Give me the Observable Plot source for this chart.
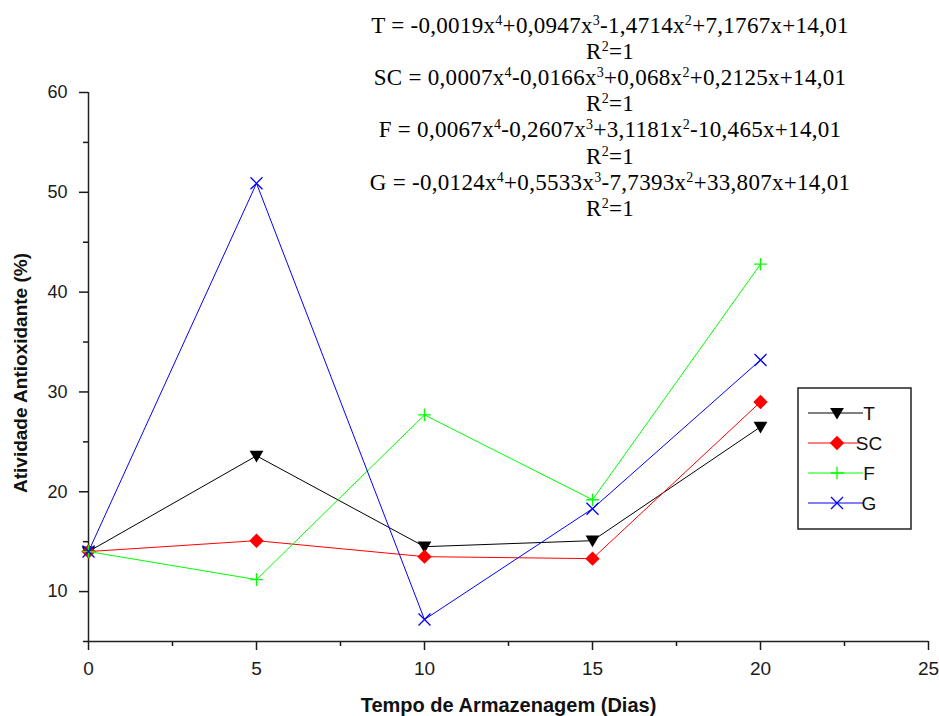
<!DOCTYPE html>
<html><head><meta charset="utf-8">
<script src="https://cdn.jsdelivr.net/npm/d3@7"></script>
<script src="https://cdn.jsdelivr.net/npm/@observablehq/plot@0.6"></script>
<style>body{margin:0;background:#fff} #chart{width:939px;height:716px}</style>
</head><body><div id="chart"></div>
<script>
// ---- data ----
const days = [0, 5, 10, 15, 20];
const seriesNames = ["T", "SC", "F", "G"];
const T  = [14.01, 23.6, 14.5, 15.1, 26.5];
const SC = [14.01, 15.1, 13.5, 13.3, 29.0];
const F  = [14.01, 11.2, 27.7, 19.2, 42.8];
const G  = [14.01, 50.9, 7.2, 18.3, 33.2];
const xTicks = [0, 5, 10, 15, 20, 25];
const xMinorTicks = [2.5, 7.5, 12.5, 17.5, 22.5];
const yTicks = [10, 20, 30, 40, 50, 60];
const yMinorTicks = [5, 15, 25, 35, 45, 55];
const equations = [
  "T = -0,0019x^4+0,0947x^3-1,4714x^2+7,1767x+14,01", "R^2=1",
  "SC = 0,0007x^4-0,0166x^3+0,068x^2+0,2125x+14,01", "R^2=1",
  "F = 0,0067x^4-0,2607x^3+3,1181x^2-10,465x+14,01", "R^2=1",
  "G = -0,0124x^4+0,5533x^3-7,7393x^2+33,807x+14,01", "R^2=1"
];
const xLabel = "Tempo de Armazenagem (Dias)";
const yLabel = "Atividade Antioxidante (%)";

// ---- styles ----
const colors = {T: "#000000", SC: "#ff0000", F: "#00ff00", G: "#0000ff"};
const triDown = {draw(ctx, size){const s=Math.sqrt(size/Math.PI); ctx.moveTo(-1.15*s,-0.85*s); ctx.lineTo(1.15*s,-0.85*s); ctx.lineTo(0,1.1*s); ctx.closePath();}};
const diamond = {draw(ctx, size){const s=Math.sqrt(size/Math.PI)*1.2; ctx.moveTo(0,-s); ctx.lineTo(s,0); ctx.lineTo(0,s); ctx.lineTo(-s,0); ctx.closePath();}};
const plus = {draw(ctx, size){const s=Math.sqrt(size/Math.PI)*1.05; ctx.moveTo(-s,0); ctx.lineTo(s,0); ctx.moveTo(0,-s); ctx.lineTo(0,s);}};
const times = {draw(ctx, size){const s=Math.sqrt(size/Math.PI); ctx.moveTo(-s,-s); ctx.lineTo(s,s); ctx.moveTo(-s,s); ctx.lineTo(s,-s);}};
const symbols = {T: triDown, SC: diamond, F: plus, G: times};
const filled = {T: true, SC: true, F: false, G: false};

const valuesBySeries = {T, SC, F, G};
const rows = seriesNames.flatMap(name => days.map((d, j) => ({series: name, day: d, value: valuesBySeries[name][j]})));

const marks = [
  Plot.axisY(yTicks, {tickSize: 9, tickPadding: 12, strokeWidth: 1.5, fontSize: 18, label: null}),
  Plot.axisY(yMinorTicks, {tickSize: 5, strokeWidth: 1.5, text: null, label: null}),
  Plot.axisX(xTicks, {tickSize: 9, tickPadding: 11, strokeWidth: 1.5, fontSize: 19, label: null}),
  Plot.axisX(xMinorTicks, {tickSize: 5, strokeWidth: 1.5, text: null, label: null}),
  Plot.ruleX([0], {stroke: "#222", strokeWidth: 1.5}),
  Plot.ruleY([5], {stroke: "#222", strokeWidth: 1.5}),
  Plot.text([xLabel], {text: d => d, frameAnchor: "bottom", lineAnchor: "middle", dy: 64, fontWeight: "bold", fontSize: 20, fill: "#111"}),
  Plot.text([yLabel], {text: d => d, frameAnchor: "left", textAnchor: "middle", lineAnchor: "middle", dx: -68, dy: 6, rotate: -90, fontWeight: "bold", fontSize: 19, fill: "#111"})
];
for (const name of seriesNames) {
  const data = rows.filter(r => r.series === name);
  marks.push(Plot.line(data, {x: "day", y: "value", stroke: colors[name], strokeWidth: 1}));
  marks.push(Plot.dot(data, filled[name]
    ? {x: "day", y: "value", symbol: symbols[name], r: 6, fill: colors[name], stroke: "none"}
    : {x: "day", y: "value", symbol: symbols[name], r: 6, fill: "none", stroke: colors[name], strokeWidth: 1.3}));
}

const plot = Plot.plot({
  width: 939, height: 716,
  marginLeft: 88, marginRight: 11, marginTop: 92, marginBottom: 75,
  x: {domain: [0, 25]},
  y: {domain: [5, 60]},
  style: {fontFamily: "Arial, 'Liberation Sans', sans-serif", fontSize: "18px", color: "#1a1a1a", background: "#fff"},
  marks
});

const svg = d3.select(plot);

// equations
const eq = svg.append("g").attr("font-family", "'Liberation Serif', 'Times New Roman', serif")
  .attr("font-size", 23).attr("letter-spacing", 0.3).attr("fill", "#000").attr("text-anchor", "middle");
equations.forEach((str, i) => {
  const t = eq.append("text").attr("x", 610).attr("y", 33 + i * 26.1);
  const parts = str.split(/\^(\d)/);
  let raised = false;
  parts.forEach((p, k) => {
    if (k % 2 === 1) { t.append("tspan").attr("font-size", 14).attr("dy", -8).text(p); raised = true; }
    else if (p) { const s = t.append("tspan").text(p); if (raised) { s.attr("dy", 8); raised = false; } }
  });
});

// legend
const lg = svg.append("g").attr("transform", "translate(798,388)");
lg.append("rect").attr("width", 113).attr("height", 141).attr("fill", "#fff").attr("stroke", "#222").attr("stroke-width", 1.5);
seriesNames.forEach((name, i) => {
  const y = 25 + i * 30;
  lg.append("line").attr("x1", 10).attr("x2", 65).attr("y1", y).attr("y2", y).attr("stroke", colors[name]).attr("stroke-width", 1);
  const p = lg.append("path").attr("transform", `translate(39,${y})`).attr("d", d3.symbol(symbols[name], Math.PI * 36)());
  if (filled[name]) p.attr("fill", colors[name]).attr("stroke", "none");
  else p.attr("fill", "#fff").attr("stroke", colors[name]).attr("stroke-width", 1.3);
  lg.append("text").attr("x", 71).attr("y", y).attr("dy", "0.35em").attr("font-size", 19)
    .attr("font-family", "Arial, 'Liberation Sans', sans-serif").attr("fill", "#111").text(name);
});

document.getElementById("chart").appendChild(plot);
</script></body></html>
